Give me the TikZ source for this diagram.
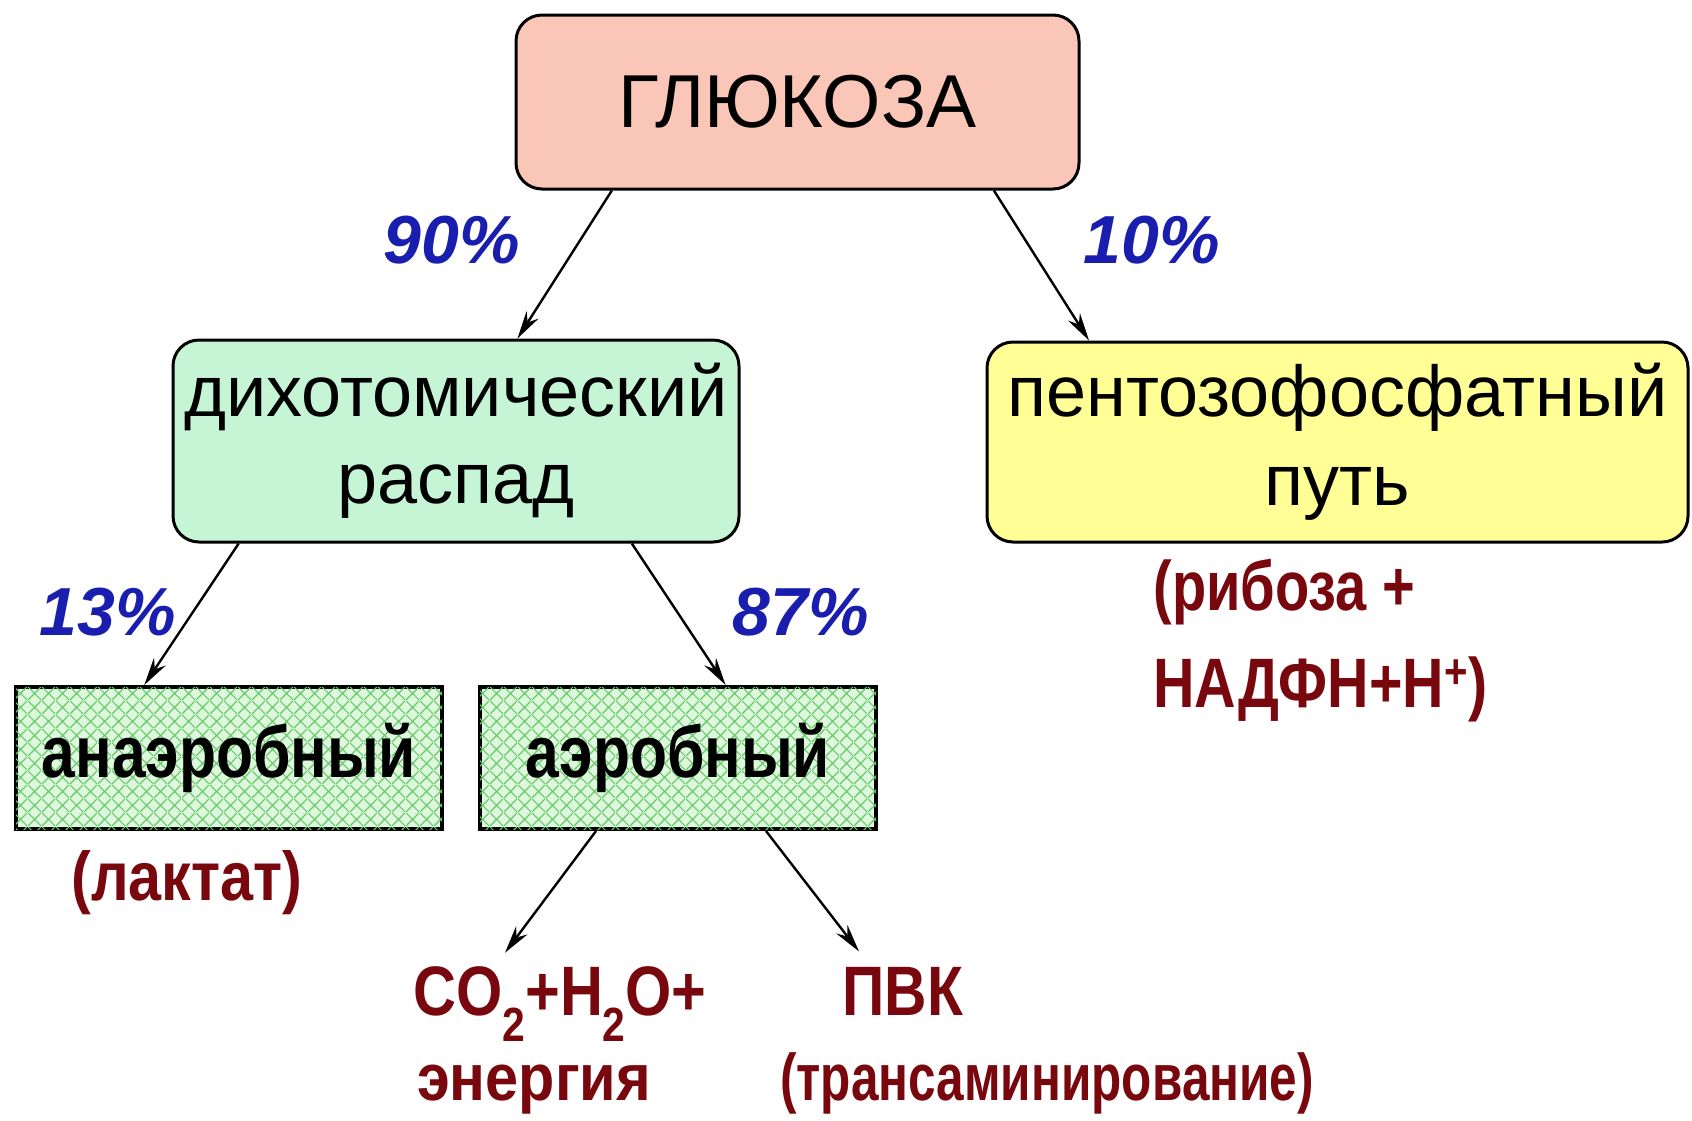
\documentclass[tikz,border=0pt]{standalone}
\usepackage{fontspec}
\usepackage{graphicx}
\setmainfont{Liberation Sans}
\usetikzlibrary{arrows.meta,calc,patterns.meta}

\definecolor{glufill}{RGB}{250,198,184}
\definecolor{dichfill}{RGB}{198,245,214}
\definecolor{pentfill}{RGB}{255,255,150}
\definecolor{hatchbg}{RGB}{222,248,222}
\definecolor{hatchline}{RGB}{105,200,105}
\definecolor{pctblue}{RGB}{25,30,175}
\definecolor{darkred}{RGB}{120,8,14}

\tikzdeclarepattern{
  name=bigcross,
  type=uncolored,
  bounding box={(0,0) and (7pt,7pt)},
  tile size={(7pt,7pt)},
  code={
    \draw[line width=0.6pt] (0,0) -- (7pt,7pt) (0,7pt) -- (7pt,0);
  }
}

\newcommand{\subtwo}{\raisebox{-0.38em}{\fontsize{24}{24}\selectfont 2}}

\tikzset{
  rbox/.style={draw=black, line width=1.5pt, rounded corners=13pt, inner sep=0pt, align=center},
  hbox/.style={draw=black, line width=2pt, fill=hatchbg,
    postaction={pattern=bigcross, pattern color=hatchline}, inner sep=0pt,
    font=\fontsize{36.5}{42}\selectfont\bfseries},
  pct/.style={font=\fontsize{34}{40}\selectfont\bfseries\itshape, text=pctblue, inner sep=0pt, anchor=base},
  res/.style={text=darkred, inner sep=0pt, anchor=base},
  arr/.style={-{Stealth[length=14pt,width=7pt]}, line width=1.2pt},
}

\begin{document}
\begin{tikzpicture}[x=0.5pt,y=-0.5pt]
\fill[white] (0,0) rectangle (1692,1120);
\path[use as bounding box] (0,0) rectangle (1692,1120);

% boxes
\node[rbox, fill=glufill, minimum width=281.5pt, minimum height=87pt,
  font=\fontsize{37.5}{44}\selectfont] (glu) at (797.5,102) {ГЛЮКОЗА};
\node[rbox, fill=dichfill, minimum width=283pt, minimum height=101pt,
  font=\fontsize{36}{43.5}\selectfont] (dich) at (456,441) {дихотомический\\распад};
\node[rbox, fill=pentfill, minimum width=350.5pt, minimum height=100pt,
  font=\fontsize{36}{44.5}\selectfont] (pent) at (1337.5,442) {пентозофосфатный\\путь};
\node[hbox, minimum width=213pt, minimum height=71pt] (anaer) at (229,758)
  {\scalebox{0.83}[1]{анаэробный}};
\node[hbox, minimum width=198pt, minimum height=71pt] (aer) at (678,758)
  {\scalebox{0.83}[1]{аэробный}};

% percentages
\node[pct] (p90) at (452,263) {90\%};
\node[pct] (p10) at (1152,263) {10\%};
\node[pct] (p13) at (108,635) {13\%};
\node[pct] (p87) at (801,635) {87\%};

% results
\node[res, font=\fontsize{34.5}{40}\selectfont\bfseries] (lakt) at (187,900)
  {\scalebox{0.86}[1]{(лактат)}};
\node[res, anchor=base west, font=\fontsize{35}{40}\selectfont\bfseries] (ribo) at (1153,610)
  {\vtop{\baselineskip=48.5pt\hbox{\scalebox{0.8}[1]{(рибоза +}}\hbox{\scalebox{0.82}[1]{НАДФН+Н\textsuperscript{+})}}}};
\node[res, font=\fontsize{35}{40}\selectfont\bfseries] (co2) at (560,1015)
  {\scalebox{0.85}[1]{CO\subtwo+H\subtwo O+}};
\node[res, font=\fontsize{35}{40}\selectfont\bfseries] (pvk) at (903,1015)
  {\scalebox{0.84}[1]{ПВК}};
\node[res, font=\fontsize{33}{40}\selectfont\bfseries] (energ) at (534,1100)
  {\scalebox{0.9}[1]{энергия}};
\node[res, font=\fontsize{33}{40}\selectfont\bfseries] (trans) at (1047,1100)
  {\scalebox{0.75}[1]{(трансаминирование)}};

% connectors
\draw[arr] ($(glu.south west)!0.172!(glu.south east)$) -- ($(dich.north west)!0.608!(dich.north east)$);
\draw[arr] ($(glu.south west)!0.847!(glu.south east)$) -- ($(pent.north west)!0.147!(pent.north east)$);
\draw[arr] ($(dich.south west)!0.118!(dich.south east)$) -- ($(anaer.north west)!0.303!(anaer.north east)$);
\draw[arr] ($(dich.south west)!0.809!(dich.south east)$) -- ($(aer.north west)!0.619!(aer.north east)$);
\draw[arr] ($(aer.south west)!0.295!(aer.south east)$) -- ([xshift=-27.5pt,yshift=6.5pt]co2.north);
\draw[arr] ($(aer.south west)!0.72!(aer.south east)$) -- ([xshift=-22pt,yshift=7.5pt]pvk.north);
\end{tikzpicture}
\end{document}
